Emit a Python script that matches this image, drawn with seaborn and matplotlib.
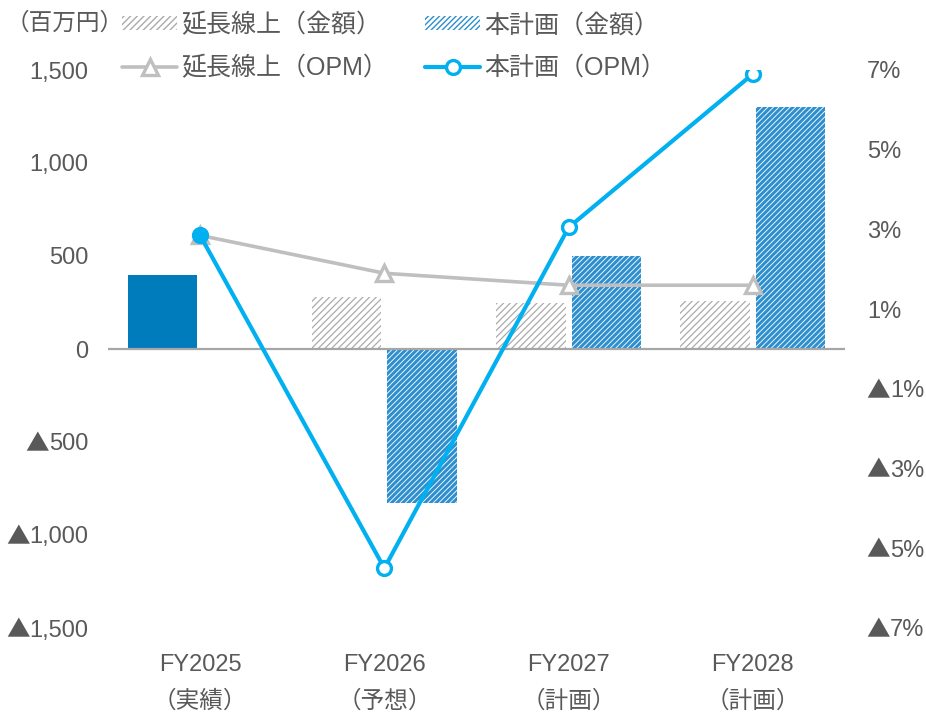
import numpy as np
import pandas as pd
import matplotlib
matplotlib.use("Agg")
import matplotlib.pyplot as plt
from matplotlib.ticker import FuncFormatter, FixedLocator, FixedFormatter
from matplotlib.patches import Patch
from matplotlib.lines import Line2D
import seaborn as sns

# ---- data ----
fiscal_years = ["FY2025", "FY2026", "FY2027", "FY2028"]
year_status = ["（実績）", "（予想）", "（計画）", "（計画）"]
series_names = ["延長線上", "本計画"]
actual_amount = [400, np.nan, np.nan, np.nan]       # 百万円 (実績)
baseline_amount = [np.nan, 280, 250, 260]           # 百万円
plan_amount = [np.nan, -830, 500, 1300]             # 百万円
baseline_opm = [2.85, 1.9, 1.6, 1.6]                # %
plan_opm = [2.85, -5.5, 3.05, 6.9]                  # %
amount_ticks = [-1500, -1000, -500, 0, 500, 1000, 1500]
opm_ticks = [-7, -5, -3, -1, 1, 3, 5, 7]
legend_labels = ["延長線上（金額）", "延長線上（OPM）", "本計画（金額）", "本計画（OPM）"]
unit_label = "（百万円）"
neg_mark = "▲"

# ---- style ----
TEXT = "#595959"
GRAY_LINE = "#BFBFBF"
GRAY_HATCH = "#ABABAB"
BLUE_LINE = "#00B0F0"
BLUE_HATCH = "#2E8FCE"
BLUE_SOLID = "#007BBB"
FS = 17
LEG_FS = 18
CJK = "Noto Sans CJK JP"

sns.set_style("white")
plt.rcParams["font.family"] = ["Liberation Sans", CJK, "DejaVu Sans"]

fig = plt.figure(figsize=(9.26, 7.13), dpi=100)
ax = fig.add_axes([108 / 926, 1 - 628 / 713, 737 / 926, 558 / 713])


def style_hatch(patch, color, hatch, hlw):
    patch.set_facecolor("white")
    patch.set_edgecolor(color)
    patch.set_hatch(hatch)
    patch.set_linewidth(0)
    if hasattr(patch, "set_hatch_linewidth"):
        patch.set_hatch_linewidth(hlw)


# bar table: the first slot carries the actual result where there is one
first_slot = [a if not np.isnan(a) else b for a, b in zip(actual_amount, baseline_amount)]
second_slot = [0 if np.isnan(p) else p for p in plan_amount]
bars = pd.DataFrame({
    "year": fiscal_years * 2,
    "series": [series_names[0]] * len(fiscal_years) + [series_names[1]] * len(fiscal_years),
    "amount": first_slot + second_slot,
})

sns.barplot(data=bars, x="year", y="amount", hue="series", order=fiscal_years,
            hue_order=series_names, width=0.82, gap=0.08, errorbar=None,
            legend=False, ax=ax, zorder=2)

for i, p in enumerate(ax.containers[0]):
    if not np.isnan(actual_amount[i]):
        p.set_facecolor(BLUE_SOLID)
        p.set_edgecolor(BLUE_SOLID)
        p.set_hatch(None)
        p.set_linewidth(0)
    else:
        style_hatch(p, GRAY_HATCH, "/////", 0.9)
for p in ax.containers[1]:
    style_hatch(p, BLUE_HATCH, "//////", 2.2)

ax.axhline(0, color="#A6A6A6", lw=1.6, zorder=3)
ax.set_xlim(-0.5, 3.5)
ax.set_ylim(-1500, 1500)
ax.yaxis.set_major_locator(FixedLocator(amount_ticks))
ax.yaxis.set_major_formatter(FuncFormatter(lambda v, _: f"{abs(v):,.0f}"))
ax.set_xlabel("")
ax.set_ylabel("")
ax.tick_params(axis="y", length=0, pad=14, labelsize=FS, labelcolor=TEXT)
ax.tick_params(axis="x", which="major", length=0, pad=19, labelsize=FS, labelcolor=TEXT)
# second line of the category labels
ax.xaxis.remove_overlapping_locs = False
ax.xaxis.set_minor_locator(FixedLocator(range(len(fiscal_years))))
ax.xaxis.set_minor_formatter(FixedFormatter(year_status))
ax.tick_params(axis="x", which="minor", length=0, pad=45, labelsize=FS, labelcolor=TEXT)
sns.despine(ax=ax, left=True, bottom=True)

# ---- OPM lines on the secondary axis ----
ax2 = ax.twinx()
sns.lineplot(x=fiscal_years, y=baseline_opm, ax=ax2, color=GRAY_LINE, lw=2.6,
             marker="^", ms=12, mfc="white", mec=GRAY_LINE, mew=2.4, sort=False)
sns.lineplot(x=fiscal_years, y=plan_opm, ax=ax2, color=BLUE_LINE, lw=3.0,
             marker="o", ms=10, mfc="white", mec=BLUE_LINE, mew=2.4, sort=False)
sns.scatterplot(x=fiscal_years[:1], y=plan_opm[:1], ax=ax2, color=BLUE_LINE, s=130,
                edgecolor=BLUE_LINE, linewidth=0, zorder=5)
ax2.set_ylim(-7, 7)
ax2.yaxis.set_major_locator(FixedLocator(opm_ticks))
ax2.yaxis.set_major_formatter(FuncFormatter(lambda v, _: f"{abs(v):.0f}%"))
ax2.set_ylabel("")
ax2.tick_params(axis="y", length=0, pad=16, labelsize=FS, labelcolor=TEXT)
for s in ax2.spines.values():
    s.set_visible(False)

# negative values carry a ▲ prefix drawn in the CJK face
fig.canvas.draw()
mark_w = 16.5  # points
for tick, v in zip(ax2.yaxis.get_major_ticks(), opm_ticks):
    if v < 0:
        tick.set_pad(16 + mark_w)
fig.canvas.draw()
for axis_obj, vals in ((ax.yaxis, amount_ticks), (ax2.yaxis, opm_ticks)):
    ticks = axis_obj.get_major_ticks()
    for tick, v in zip(ticks, vals):
        if v < 0:
            lbl = tick.label2 if axis_obj is ax2.yaxis else tick.label1
            ax.annotate(neg_mark, xy=(0, 0.5), xycoords=lbl, ha="right",
                        va="center", fontsize=FS, color=TEXT, family=CJK,
                        annotation_clip=False)

# ---- legend & unit ----
handles = [
    Patch(facecolor="white", edgecolor=GRAY_HATCH, lw=0, hatch="/////"),
    Line2D([], [], color=GRAY_LINE, lw=2.6, marker="^", ms=12, mfc="white",
           mec=GRAY_LINE, mew=2.4),
    Patch(facecolor="white", edgecolor=BLUE_HATCH, lw=0, hatch="//////"),
    Line2D([], [], color=BLUE_LINE, lw=3.0, marker="o", ms=10, mfc="white",
           mec=BLUE_LINE, mew=2.4),
]
fig.legend(handles, legend_labels, ncol=2, loc="upper left",
           bbox_to_anchor=(122 / 926, 1 - 13 / 713), frameon=False,
           fontsize=LEG_FS, labelcolor=TEXT, handlelength=2.2, handleheight=0.5,
           handletextpad=0.15, columnspacing=1.5, labelspacing=0.75,
           borderpad=0, borderaxespad=0)
fig.text(6 / 926, 1 - 24 / 713, unit_label, fontsize=FS, color=TEXT,
         ha="left", va="center")

fig.savefig("out.png", dpi=100)
